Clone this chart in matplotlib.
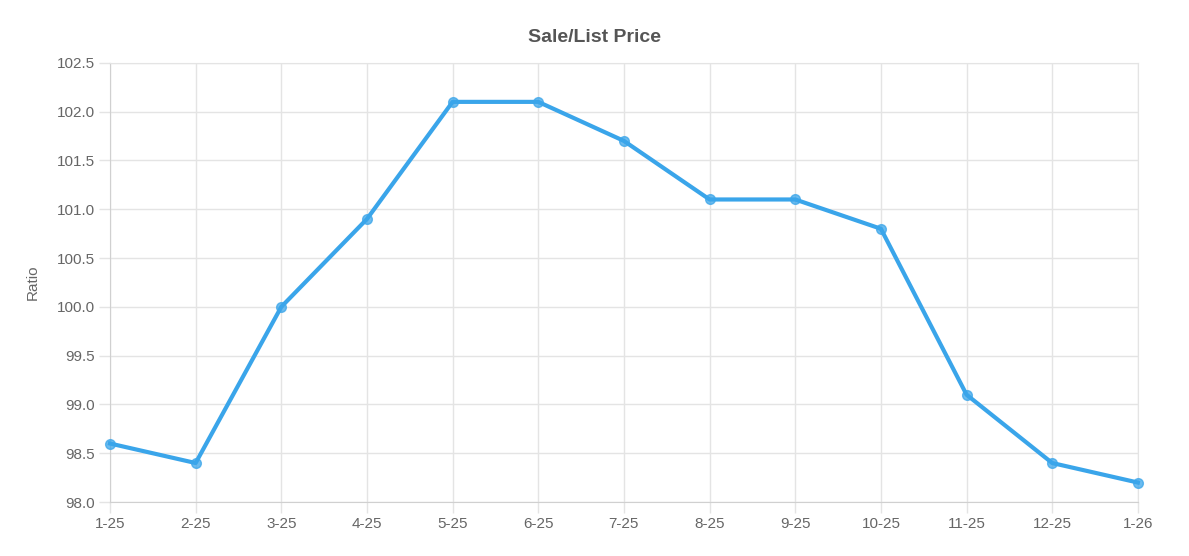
import matplotlib.pyplot as plt

plt.rcParams['font.family'] = ['Liberation Sans', 'DejaVu Sans']

# Данные
months = ['1-25', '2-25', '3-25', '4-25', '5-25', '6-25', '7-25',
          '8-25', '9-25', '10-25', '11-25', '12-25', '1-26']
ratio = [98.6, 98.4, 100.0, 100.9, 102.1, 102.1, 101.7,
         101.1, 101.1, 100.8, 99.1, 98.4, 98.2]
y_ticks = [98.0, 98.5, 99.0, 99.5, 100.0, 100.5, 101.0, 101.5, 102.0, 102.5]

grid_c = '#e4e4e4'
text_c = '#666666'
line_c = '#3aa5ea'

fig = plt.figure(figsize=(11.89, 5.56), dpi=100)
ax = fig.add_axes([0.0925, 0.097, 0.957 - 0.0925, 0.887 - 0.097])

x = list(range(len(months)))
ax.plot(x, ratio, color=line_c, linewidth=3, zorder=3, clip_on=False)
ax.plot(x, ratio, 'o', color=line_c, markersize=7, alpha=0.75,
        markeredgecolor=line_c, zorder=4, clip_on=False)

ax.set_xlim(0, len(months) - 1)
ax.set_ylim(98.0, 102.5)
ax.set_xticks(x)
ax.set_xticklabels(months)
ax.set_yticks(y_ticks)
ax.set_yticklabels([f'{v:.1f}' for v in y_ticks])

ax.grid(True, color=grid_c, linewidth=1)
ax.set_axisbelow(True)
for s in ax.spines.values():
    s.set_color(grid_c)
ax.spines['left'].set_color('#d0d0d0')
ax.spines['bottom'].set_color('#d0d0d0')
ax.tick_params(colors=text_c, labelsize=11, length=8, width=1, pad=3)
ax.tick_params(axis='both', color=grid_c)

ax.set_ylabel('Ratio', color=text_c, fontsize=11, labelpad=12)
fig.suptitle('Sale/List Price', x=0.5, y=0.948, fontsize=14,
             fontweight='bold', color='#555555')

plt.savefig('out.png', dpi=100)
plt.close()
